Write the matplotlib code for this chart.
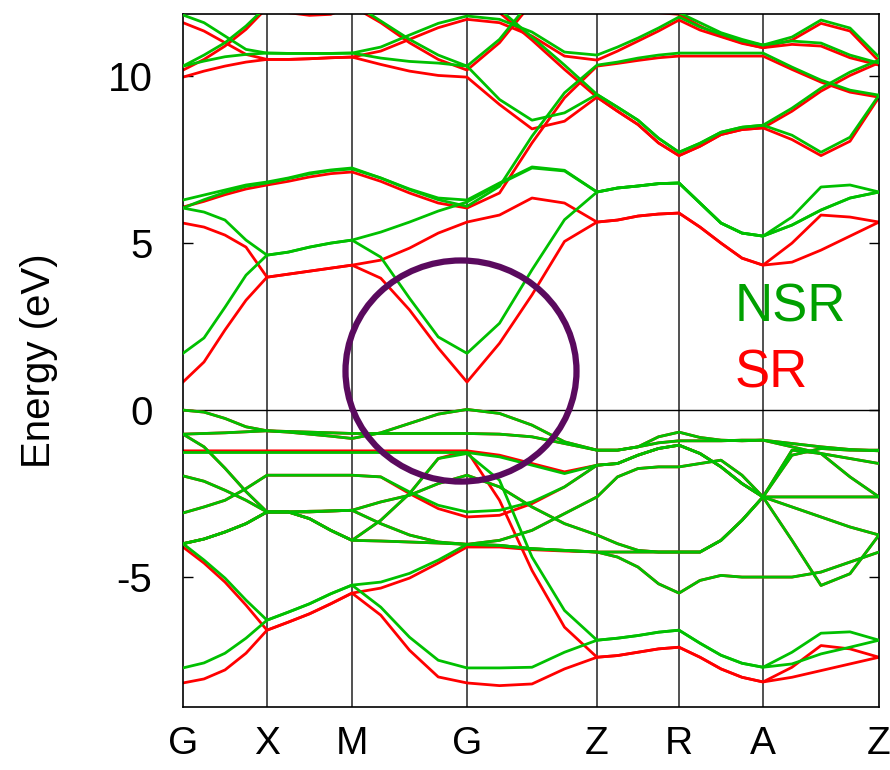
import numpy as np
import matplotlib
matplotlib.use("Agg")
import matplotlib.pyplot as plt
from matplotlib.patches import Ellipse

plt.rcParams['font.family'] = ['Liberation Sans', 'DejaVu Sans']

# k-path: high-symmetry points and their cumulative path distance
kpt_labels = ['G', 'X', 'M', 'G', 'Z', 'R', 'A', 'Z']
kpt_dist = [0, 84, 169, 284, 414, 496, 580, 696]

nan = np.nan

# ---- NSR bands (eV), sampled at 5 points per path segment ----
nsr_cb1 = [1.7, 2.16, 3.08, 4.04, 4.64, 4.73, 4.88, 5.0, 5.09, 4.58, 3.35, 2.19, 1.7,
           2.6, 4.2, 5.7, 6.53, 6.65, 6.71, 6.78, 6.8, 6.2, 5.6, 5.3, 5.21, 5.54, 5.99, 6.35, 6.53]
nsr_cb2 = [6.05, 5.93, 5.69, 5.09, 4.64, 4.73, 4.88, 5.0, 5.09, 5.33, 5.63, 5.96, 6.23,
           6.77, 7.25, 7.16, 6.53, 6.65, 6.71, 6.78, 6.8, 6.2, 5.6, 5.3, 5.21, 5.78, 6.68, 6.74, 6.53]
nsr_cb3 = [6.05, 6.3, 6.52, 6.7, 6.8, 6.93, 7.07, 7.17, 7.22, 6.95, 6.62, 6.35, 6.29,
           6.8, 7.28, 7.18, 6.53, 6.65, 6.71, 6.78, 6.8, 6.2, 5.6, 5.3, 5.21, 5.54, 5.99, 6.35, 6.53]
nsr_cb4 = [6.29, 6.44, 6.59, 6.74, 6.83, 6.95, 7.1, 7.19, 7.25, 6.95, 6.6, 6.3, 6.1,
           6.7, 8.2, 9.5, 10.33, 10.42, 10.54, 10.63, 10.69, 10.69, 10.69, 10.69, 10.69, 10.27, 9.88, 9.58, 9.43]
nsr_cb5 = [10.3, 10.45, 10.58, 10.65, 10.69, 10.68, 10.68, 10.68, 10.69, 10.54, 10.44, 10.39, 10.3,
           9.3, 8.68, 8.9, 9.45, 9.07, 8.68, 8.14, 7.72, 7.99, 8.32, 8.47, 8.53, 8.23, 7.72, 8.17, 9.43]
nsr_cb6 = [10.3, 10.63, 11.0, 11.5, 12.1, 12.0, 11.9, 11.92, 12.2, 11.65, 11.1, 10.63, 10.3,
           11.1, 12.3, 12.5, 12.4, 12.3, 12.15, 12.0, 11.9, 11.6, 11.3, 11.1, 10.93, 11.05, 10.99, 10.63, 10.39]
nsr_cb7 = [11.83, 11.6, 11.2, 10.8, 10.69, 10.68, 10.68, 10.68, 10.69, 10.87, 11.23, 11.58, 11.8,
           11.7, 11.32, 10.72, 10.63, 10.87, 11.14, 11.44, 11.77, 11.47, 11.26, 11.05, 10.93, 11.17, 11.68, 11.44, 10.57]
nsr_cb8 = [nan, nan, nan, nan, nan, nan, nan, nan, nan, nan, nan, nan, 12.6,
           12.0, 11.17, 10.33, 9.45, 9.07, 8.68, 8.14, 7.72, 7.99, 8.32, 8.47, 8.53, 9.04, 9.64, 10.12, 10.48]

nsr_v1 = [0.0, -0.06, -0.25, -0.5, -0.62, -0.66, -0.72, -0.78, -0.85, -0.68, -0.4, -0.12, 0.02,
          -0.1, -0.45, -0.95, -1.2, -1.2, -1.1, -0.8, -0.66, -0.82, -0.9, -0.92, -0.9, -1.0, -1.1, -1.18, -1.22]
nsr_v2 = [-0.72, -0.7, -0.68, -0.65, -0.62, -0.64, -0.66, -0.68, -0.7, -0.7, -0.7, -0.7, -0.7,
          -0.72, -0.8, -1.0, -1.2, -1.2, -1.1, -0.98, -0.92, -0.92, -0.92, -0.9, -0.9, -1.1, -1.3, -1.45, -1.6]
nsr_v3 = [-1.27, -1.27, -1.27, -1.27, -1.27, -1.27, -1.27, -1.27, -1.27, -1.27, -1.27, -1.27, -1.27,
          -1.4, -1.65, -1.9, -1.65, -1.6, -1.35, -1.15, -1.05, -1.3, -1.7, -2.2, -2.6, -1.35, -1.15, -1.2, -1.2]
nsr_v4 = [-0.72, -1.1, -1.74, -2.44, -3.05, -3.05, -3.05, -3.02, -3.0, -2.75, -2.55, -2.2, -1.95,
          -2.3, -2.9, -3.4, -3.74, -4.0, -4.2, -4.25, -4.25, -4.25, -3.9, -3.3, -2.6, -2.6, -2.6, -2.6, -2.6]
nsr_v5 = [-1.97, -2.13, -2.4, -2.7, -3.05, -3.05, -3.25, -3.6, -3.9, -3.3, -2.5, -1.45, -1.3,
          -2.1, -4.4, -6.0, -6.89, -6.83, -6.75, -6.65, -6.59, -6.98, -7.34, -7.58, -7.7, -7.25, -6.68, -6.64, -6.89]
nsr_v6 = [-3.08, -2.9, -2.7, -2.35, -1.95, -1.95, -1.95, -1.95, -1.95, -2.0, -2.45, -2.85, -3.05,
          -3.0, -2.75, -2.3, -1.65, -1.6, -1.35, -1.15, -1.05, -1.3, -1.7, -2.2, -2.6, -3.9, -5.25, -4.9, -3.74]
nsr_v7 = [-4.0, -3.86, -3.65, -3.4, -3.05, -3.05, -3.03, -3.02, -3.0, -3.4, -3.74, -3.95, -4.02,
          -3.9, -3.6, -3.1, -2.6, -2.0, -1.75, -1.7, -1.7, -1.6, -1.5, -1.95, -2.6, -1.2, -1.3, -2.0, -2.6]
nsr_v8 = [-4.0, -3.86, -3.65, -3.4, -3.05, -3.05, -3.25, -3.6, -3.9, -3.92, -3.95, -3.98, -4.02,
          -4.05, -4.15, -4.2, -4.25, -4.25, -4.25, -4.25, -4.25, -4.25, -3.9, -3.3, -2.6, -2.9, -3.2, -3.5, -3.74]
nsr_v9 = [-4.0, -4.49, -5.03, -5.69, -6.29, -6.05, -5.8, -5.5, -5.24, -5.15, -4.89, -4.49, -4.02,
          -4.05, -4.15, -4.2, -4.25, -4.4, -4.7, -5.2, -5.48, -5.1, -4.95, -5.0, -5.0, -5.0, -4.85, -4.55, -4.25]
nsr_v10 = [-7.72, -7.57, -7.28, -6.83, -6.29, -6.05, -5.8, -5.5, -5.24, -5.9, -6.8, -7.49, -7.72,
           -7.72, -7.7, -7.25, -6.89, -6.83, -6.75, -6.65, -6.59, -6.98, -7.34, -7.58, -7.7, -7.6, -7.3, -7.1, -6.89]

# ---- SR bands (eV) ----
sr_cb1 = [0.84, 1.44, 2.4, 3.29, 3.98, 4.07, 4.16, 4.25, 4.34, 3.95, 3.0, 1.86, 0.84,
          2.0, 3.45, 5.05, 5.63, 5.69, 5.81, 5.87, 5.9, 5.48, 5.0, 4.55, 4.34, 4.43, 4.79, 5.21, 5.63]
sr_cb2 = [5.6, 5.48, 5.24, 4.88, 3.98, 4.07, 4.16, 4.25, 4.34, 4.49, 4.85, 5.3, 5.63,
          5.84, 6.35, 6.2, 5.63, 5.69, 5.81, 5.87, 5.9, 5.48, 5.0, 4.55, 4.34, 5.0, 5.84, 5.78, 5.63]
sr_cb4 = [6.08, 6.25, 6.45, 6.62, 6.74, 6.85, 6.98, 7.08, 7.13, 6.85, 6.5, 6.2, 6.05,
          6.5, 8.0, 9.35, 10.3, 10.38, 10.47, 10.55, 10.6, 10.6, 10.6, 10.6, 10.6, 10.2, 9.82, 9.52, 9.37]
sr_cb5 = [9.97, 10.15, 10.3, 10.42, 10.5, 10.5, 10.52, 10.55, 10.57, 10.35, 10.15, 10.02, 9.97,
          9.15, 8.42, 8.65, 9.37, 8.95, 8.55, 8.0, 7.62, 7.9, 8.25, 8.4, 8.45, 8.1, 7.62, 8.05, 9.37]
sr_cb6 = [10.18, 10.5, 10.9, 11.4, 12.05, 11.9, 11.82, 11.85, 12.1, 11.6, 11.0, 10.5, 10.18,
          11.0, 12.2, 12.4, 12.3, 12.2, 12.05, 11.9, 11.85, 11.5, 11.2, 11.0, 10.85, 10.95, 10.9, 10.55, 10.33]
sr_cb7 = [11.6, 11.35, 11.0, 10.65, 10.5, 10.5, 10.52, 10.55, 10.57, 10.75, 11.1, 11.45, 11.7,
          11.6, 11.2, 10.6, 10.48, 10.75, 11.05, 11.35, 11.68, 11.38, 11.18, 10.98, 10.85, 11.08, 11.58, 11.35, 10.45]
sr_cb8 = [nan, nan, nan, nan, nan, nan, nan, nan, nan, nan, nan, nan, 12.6,
          11.9, 11.08, 10.2, 9.37, 8.95, 8.55, 8.0, 7.62, 7.9, 8.25, 8.4, 8.45, 8.95, 9.55, 10.02, 10.4]

sr_v3 = [-1.22, -1.22, -1.22, -1.22, -1.22, -1.22, -1.22, -1.22, -1.22, -1.22, -1.22, -1.22, -1.22,
         -1.35, -1.6, -1.85, -1.65, -1.6, -1.35, -1.15, -1.05, -1.3, -1.7, -2.2, -2.6, -1.35, -1.15, -1.2, -1.2]
sr_v5 = [-1.97, -2.13, -2.4, -2.7, -3.05, -3.05, -3.25, -3.6, -3.9, -3.3, -2.5, -1.45, -1.22,
         -2.7, -4.8, -6.5, -7.4, -7.35, -7.25, -7.15, -7.1, -7.4, -7.75, -8.0, -8.14, -7.7, -7.05, -7.15, -7.4]
sr_v6 = [-3.08, -2.9, -2.7, -2.35, -1.95, -1.95, -1.95, -1.95, -1.95, -2.0, -2.5, -2.95, -3.2,
         -3.15, -2.8, -2.3, -1.65, -1.6, -1.35, -1.15, -1.05, -1.3, -1.7, -2.2, -2.6, -3.9, -5.25, -4.9, -3.74]
sr_v9 = [-4.1, -4.58, -5.15, -5.84, -6.59, -6.35, -6.1, -5.8, -5.48, -5.33, -5.03, -4.58, -4.1,
         -4.1, -4.18, -4.22, -4.25, -4.4, -4.7, -5.2, -5.48, -5.1, -4.95, -5.0, -5.0, -5.0, -4.85, -4.55, -4.25]
sr_v10 = [-8.17, -8.05, -7.78, -7.28, -6.59, -6.35, -6.1, -5.8, -5.48, -6.14, -7.19, -7.99, -8.17,
          -8.25, -8.2, -7.75, -7.4, -7.35, -7.25, -7.15, -7.1, -7.4, -7.75, -8.0, -8.14, -8.0, -7.8, -7.6, -7.4]

nsr_bands = [nsr_cb1, nsr_cb2, nsr_cb3, nsr_cb4, nsr_cb5, nsr_cb6, nsr_cb7, nsr_cb8,
             nsr_v1, nsr_v2, nsr_v3, nsr_v4, nsr_v5, nsr_v6, nsr_v7, nsr_v8, nsr_v9, nsr_v10]
sr_bands = [sr_cb1, sr_cb2, sr_cb4, sr_cb5, sr_cb6, sr_cb7, sr_cb8,
            nsr_v1, nsr_v2, sr_v3, nsr_v4, sr_v5, sr_v6, nsr_v7, nsr_v8, sr_v9, sr_v10]

y_ticks = [-5, 0, 5, 10]
y_ticklabels = ['-5', '0', '5', '10']

# sampling grid along the path (5 samples per segment, shared end points)
kgrid = [kpt_dist[0]]
for k0, k1 in zip(kpt_dist[:-1], kpt_dist[1:]):
    kgrid.extend(np.linspace(k0, k1, 5)[1:])
kgrid = np.array(kgrid)

RED = '#ff0000'
GREEN = '#00c000'

fig = plt.figure(figsize=(8.9, 7.7), dpi=100)
ax = fig.add_axes([183 / 890, 1 - 707 / 770, 696 / 890, 693 / 770])

for band in sr_bands:
    ax.plot(kgrid, band, color=RED, lw=2.0, solid_joinstyle='round', zorder=2)
for band in nsr_bands:
    ax.plot(kgrid, band, color=GREEN, lw=2.0, solid_joinstyle='round', zorder=3)

for k in kpt_dist[1:-1]:
    ax.axvline(k, color='#222222', lw=1.1, zorder=1)
ax.axhline(0, color='black', lw=1.0, zorder=1)

# highlight of the gap region around the zone centre
ax.add_patch(Ellipse((278, 1.17), width=231, height=6.62, fill=False,
                     ec='#5a0a5e', lw=4.5, zorder=5))

ax.set_xlim(kpt_dist[0], kpt_dist[-1])
ax.set_ylim(-8.89, 11.86)
ax.set_xticks(kpt_dist)
ax.set_xticklabels(kpt_labels)
ax.set_yticks(y_ticks)
ax.set_yticklabels(y_ticklabels)
ax.tick_params(axis='x', length=0, pad=14, labelsize=28)
ax.tick_params(axis='y', direction='in', length=7, width=1, left=True, right=True,
               labelsize=29, pad=22)
for s in ax.spines.values():
    s.set_linewidth(1.2)
    s.set_color('black')

ax.set_ylabel('Energy (eV)', fontsize=29)
ax.yaxis.set_label_coords(-0.18, 0.5)

fig.text(735 / 890, 1 - 322 / 770, 'NSR', color='#00a000', fontsize=38, va='baseline')
fig.text(735 / 890, 1 - 388 / 770, 'SR', color=RED, fontsize=38, va='baseline')

fig.savefig('out.png', dpi=100)
